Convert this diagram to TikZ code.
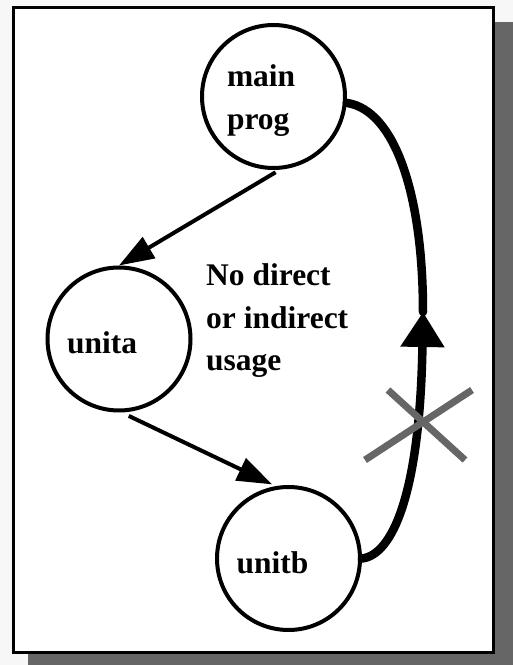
\documentclass[tikz,border=0pt]{standalone}
\usepackage{fontspec}
\setmainfont{Liberation Serif}
\usepackage{tikz}
\usetikzlibrary{arrows.meta,calc,positioning}
\definecolor{shadowgray}{HTML}{666666}
\definecolor{pagegray}{HTML}{F7F7F7}
\newcommand{\bigbold}{\fontsize{31.5}{42.5}\selectfont\bfseries}

\begin{document}
\begin{tikzpicture}[x=1pt, y=1pt,
    unit/.style={circle, draw, line width=4pt, minimum size=143pt, inner sep=0pt,
      text width=104pt, align=left, text height=30pt, text depth=0pt, font=\bigbold},
    uses/.style={line width=4pt, -{Triangle[length=35pt,width=24pt]}},
    back/.style={line width=8.5pt, line cap=round},
    cross/.style={shadowgray, line width=7pt}]
  \useasboundingbox (0,0) rectangle (513,665);
  \fill[pagegray] (0,0) rectangle (513,665);
  \fill[shadowgray] (28.3,643) rectangle (513,0);
  \draw[line width=2.7pt, fill=white] (13.7,657.3) rectangle (493.8,12.5);

  \node[unit, text width=93pt, text depth=49pt] (main) at (273.5,568.5) {main\\prog};
  \node[unit] (unita) at (119,326) {unita};
  \node[unit] (unitb) at (288.5,106.5) {unitb};
  \node[font=\bigbold, align=left, anchor=base west, inner sep=0pt] (note) at (206,294) {No direct\\or indirect\\usage};

  \draw[uses, shorten <=5pt] (main.-85) -- (unita.north);
  \draw[uses, shorten <=8pt, shorten >=4pt] (unita.-88) -- (unitb.100);

  \coordinate (tip) at (423,353);
  \draw[back, -{Triangle[length=35pt,width=42pt]}] (unitb.east) .. controls (392,110) and (420,170) .. (tip);
  \draw[back] (tip) .. controls (423,470) and (395,555) .. (main.-5);

  \coordinate (x) at (423,243);
  \draw[cross] ($(x)+(-35,32)$) -- ($(x)+(42,-38)$);
  \draw[cross] ($(x)+(-58,-38)$) -- ($(x)+(49,32)$);
\end{tikzpicture}
\end{document}
